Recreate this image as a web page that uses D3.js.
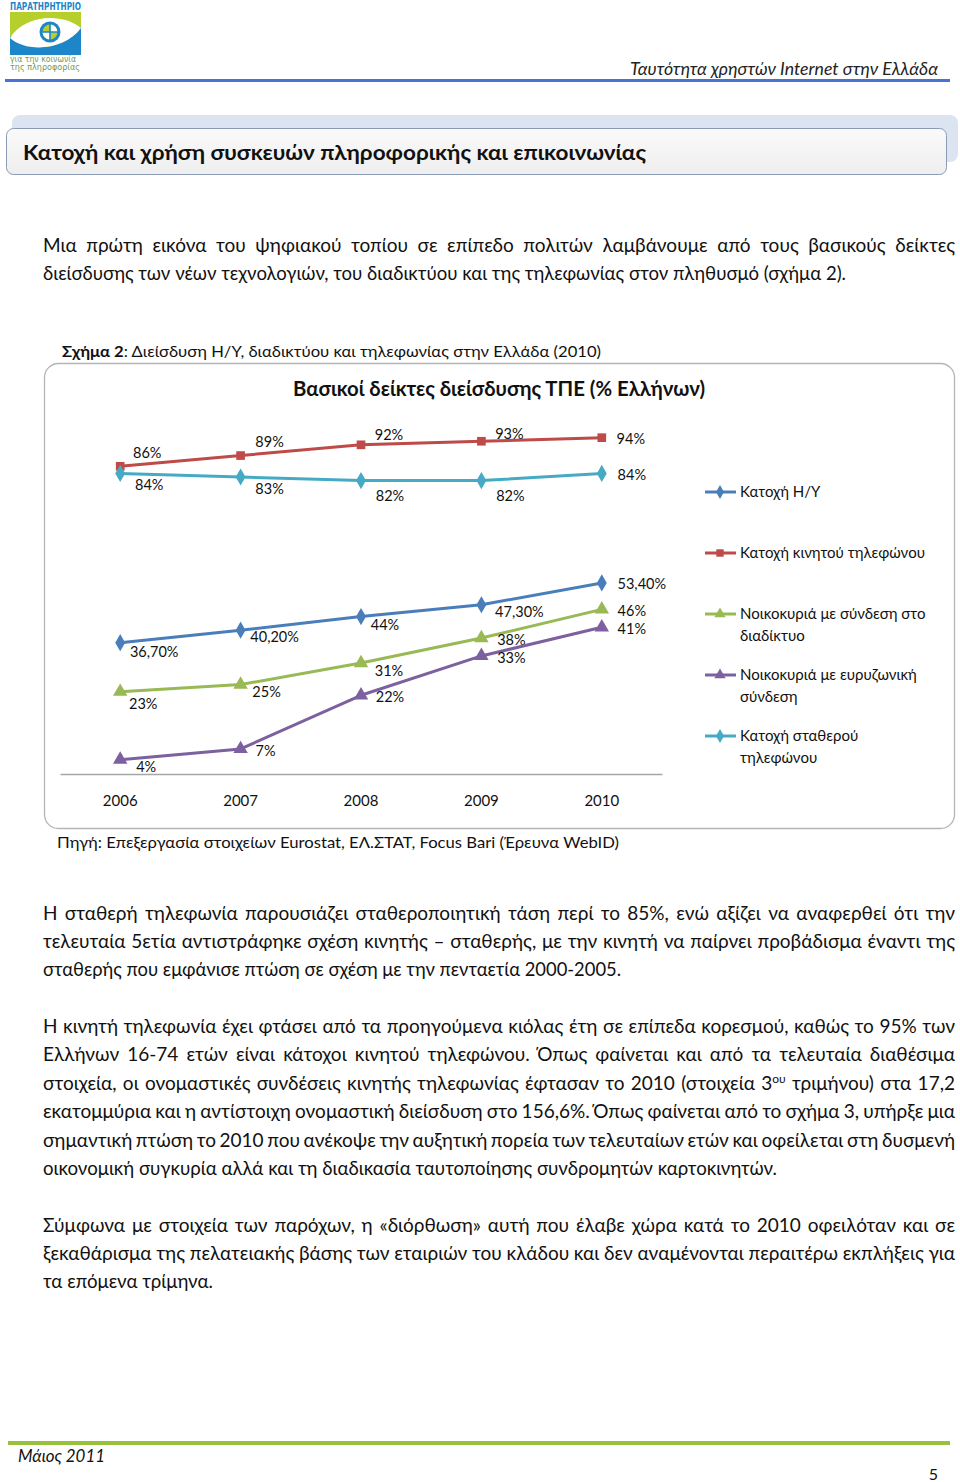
<!DOCTYPE html>
<html><head><meta charset="utf-8">
<script src="https://cdn.jsdelivr.net/npm/d3@7"></script>
<style>
html,body{margin:0;padding:0;background:#fff;}
svg{display:block;}
</style></head>
<body>
<svg id="page" width="960" height="1482"></svg>
<script>
// ---------------- DATA ----------------
const years = ["2006", "2007", "2008", "2009", "2010"];
const seriesNames = ["Κατοχή Η/Υ", "Κατοχή κινητού τηλεφώνου", "Νοικοκυριά με σύνδεση στο διαδίκτυο", "Νοικοκυριά με ευρυζωνική σύνδεση", "Κατοχή σταθερού τηλεφώνου"];
const pcValues = [36.7, 40.2, 44, 47.3, 53.4];
const mobileValues = [86, 89, 92, 93, 94];
const internetValues = [23, 25, 31, 38, 46];
const broadbandValues = [4, 7, 22, 33, 41];
const fixedValues = [84, 83, 82, 82, 84];
const pcLabels = ["36,70%", "40,20%", "44%", "47,30%", "53,40%"];

const chartTitle = "Βασικοί δείκτες διείσδυσης ΤΠΕ (% Ελλήνων)";
const captionBold = "Σχήμα 2";
const captionRest = ": Διείσδυση Η/Υ, διαδικτύου και τηλεφωνίας στην Ελλάδα (2010)";
const sourceText = "Πηγή: Επεξεργασία στοιχείων Eurostat, ΕΛ.ΣΤΑΤ, Focus Bari (Έρευνα WebID)";
const headerText = "Ταυτότητα χρηστών Internet στην Ελλάδα";
const sectionTitle = "Κατοχή και χρήση συσκευών πληροφορικής και επικοινωνίας";
const footerText = "Μάιος 2011";
const pageNumber = "5";

const para1 = [
  "Μια πρώτη εικόνα του ψηφιακού τοπίου σε επίπεδο πολιτών λαμβάνουμε από τους βασικούς δείκτες",
  "διείσδυσης των νέων τεχνολογιών, του διαδικτύου και της τηλεφωνίας στον πληθυσμό (σχήμα 2)."
];
const para2 = [
  "Η σταθερή τηλεφωνία παρουσιάζει σταθεροποιητική τάση περί το 85%, ενώ αξίζει να αναφερθεί ότι την",
  "τελευταία 5ετία αντιστράφηκε σχέση κινητής – σταθερής, με την κινητή να παίρνει προβάδισμα έναντι της",
  "σταθερής που εμφάνισε πτώση σε σχέση με την πενταετία 2000-2005."
];
const para3 = [
  "Η κινητή τηλεφωνία έχει φτάσει από τα προηγούμενα κιόλας έτη σε επίπεδα κορεσμού, καθώς το 95% των",
  "Ελλήνων 16-74 ετών είναι κάτοχοι κινητού τηλεφώνου. Όπως φαίνεται και από τα τελευταία διαθέσιμα",
  "στοιχεία, οι ονομαστικές συνδέσεις κινητής τηλεφωνίας έφτασαν το 2010 (στοιχεία 3^ου^ τριμήνου) στα 17,2",
  "εκατομμύρια και η αντίστοιχη ονομαστική διείσδυση στο 156,6%. Όπως φαίνεται από το σχήμα 3, υπήρξε μια",
  "σημαντική πτώση το 2010 που ανέκοψε την αυξητική πορεία των τελευταίων ετών και οφείλεται στη δυσμενή",
  "οικονομική συγκυρία αλλά και τη διαδικασία ταυτοποίησης συνδρομητών καρτοκινητών."
];
const para4 = [
  "Σύμφωνα με στοιχεία των παρόχων, η «διόρθωση» αυτή που έλαβε χώρα κατά το 2010 οφειλόταν και σε",
  "ξεκαθάρισμα της πελατειακής βάσης των εταιριών του κλάδου και δεν αναμένονται περαιτέρω εκπλήξεις για",
  "τα επόμενα τρίμηνα."
];

// ---------------- STYLE ----------------
const bodyFont = "Lato, 'Open Sans', sans-serif";
const chartFont = "Lato, 'Open Sans', sans-serif";
const seriesColors = ["#4a7ebb", "#be4b48", "#98b954", "#7d60a0", "#46aac5"];
const seriesSymbols = [d3.symbolDiamond, d3.symbolSquare, d3.symbolTriangle, d3.symbolTriangle, d3.symbolDiamond];

const svg = d3.select("#page");

// ---------------- HEADER / LOGO ----------------
const logo = svg.append("g");
logo.append("text").attr("x", 10).attr("y", 10).attr("font-family", "'DejaVu Sans Condensed', sans-serif")
  .attr("font-weight", "bold").attr("font-size", 10).attr("fill", "#1d86c8")
  .attr("textLength", 71).attr("lengthAdjust", "spacingAndGlyphs").text("ΠΑΡΑΤΗΡΗΤΗΡΙΟ");
logo.append("rect").attr("x", 10).attr("y", 12).attr("width", 71).attr("height", 43).attr("fill", "#b7cf2c");
logo.append("path").attr("d", "M10,36 L10,55 L81,55 L81,27 C66,50 28,54 10,36 Z").attr("fill", "#1d86c8");
logo.append("path").attr("d", "M10,38 C24,15 62,12 81,28 C66,49 28,54 10,38 Z").attr("fill", "#ffffff");
logo.append("circle").attr("cx", 50).attr("cy", 32).attr("r", 10.5).attr("fill", "#1d86c8");
logo.append("circle").attr("cx", 50).attr("cy", 32).attr("r", 7.5).attr("fill", "#b7cf2c");
logo.append("path").attr("d", "M50,24.5 A7.5,7.5 0 0 1 57.5,32 L50,32 Z M50,32 L42.5,32 A7.5,7.5 0 0 0 50,39.5 Z").attr("fill", "#ffffff");
logo.append("path").attr("d", "M50,22 V42 M40,32 H60").attr("stroke", "#1d86c8").attr("stroke-width", 1.6);
logo.append("text").attr("x", 10).attr("y", 62).attr("font-family", "'DejaVu Sans Condensed', sans-serif").attr("font-size", 8)
  .attr("fill", "#6f9a5a").attr("textLength", 66).attr("lengthAdjust", "spacingAndGlyphs").text("για την κοινωνία");
logo.append("text").attr("x", 10).attr("y", 70).attr("font-family", "'DejaVu Sans Condensed', sans-serif").attr("font-size", 8)
  .attr("fill", "#6f9a5a").attr("textLength", 70).attr("lengthAdjust", "spacingAndGlyphs").text("της πληροφορίας");

svg.append("text").attr("x", 938).attr("y", 75).attr("text-anchor", "end")
  .attr("font-family", chartFont).attr("font-style", "italic").attr("font-size", 17).attr("fill", "#222")
  .attr("textLength", 308).attr("lengthAdjust", "spacingAndGlyphs").text(headerText);
svg.append("rect").attr("x", 5).attr("y", 79).attr("width", 945).attr("height", 3).attr("fill", "#4a72d4");

// ---------------- SECTION BOX ----------------
const defs = svg.append("defs");
const grad = defs.append("linearGradient").attr("id", "boxgrad").attr("x1", 0).attr("y1", 0).attr("x2", 0).attr("y2", 1);
grad.append("stop").attr("offset", "0%").attr("stop-color", "#fafafa");
grad.append("stop").attr("offset", "100%").attr("stop-color", "#eeeeee");
svg.append("rect").attr("x", 12).attr("y", 115).attr("width", 946).attr("height", 47).attr("rx", 8)
  .attr("fill", "#dbe4f0");
svg.append("rect").attr("x", 6.5).attr("y", 128.5).attr("width", 940).attr("height", 46).attr("rx", 7)
  .attr("fill", "url(#boxgrad)").attr("stroke", "#8a9ab4").attr("stroke-width", 1);
svg.append("text").attr("x", 23).attr("y", 160).attr("font-family", chartFont).attr("font-weight", "bold")
  .attr("font-size", 21).attr("fill", "#111").attr("textLength", 623).attr("lengthAdjust", "spacingAndGlyphs").text(sectionTitle);

// ---------------- BODY TEXT ----------------
function drawParagraph(lines, baselines, lastEnd) {
  lines.forEach((line, i) => {
    const t = svg.append("text").attr("x", 43).attr("y", baselines[i])
      .attr("font-family", bodyFont).attr("font-size", 19).attr("fill", "#111");
    const parts = line.split("^");
    parts.forEach((p, j) => {
      const ts = t.append("tspan").text(p);
      if (j % 2 === 1) ts.attr("font-size", 12).attr("dy", -7);
      else if (j > 0) ts.attr("dy", 7);
    });
    const natural = t.node().getComputedTextLength();
    const isLast = i === lines.length - 1;
    if (!isLast) {
      const spaces = (line.match(/ /g) || []).length;
      const ws = (912 - natural) / spaces;
      t.attr("word-spacing", ws);
    } else {
      t.attr("textLength", lastEnd - 43).attr("lengthAdjust", "spacingAndGlyphs");
    }
  });
}
drawParagraph(para1, [252, 280], 846);
drawParagraph(para2, [920, 948, 976], 621);
drawParagraph(para3, [1033, 1061, 1090, 1118, 1147, 1175], 777);
drawParagraph(para4, [1232, 1260, 1288], 213);

// ---------------- CAPTION ----------------
const cap = svg.append("text").attr("x", 62).attr("y", 357).attr("font-family", chartFont).attr("font-size", 16).attr("fill", "#111")
  .attr("textLength", 539).attr("lengthAdjust", "spacingAndGlyphs");
cap.append("tspan").attr("font-weight", "bold").text(captionBold);
cap.append("tspan").text(captionRest);

// ---------------- CHART BOX ----------------
svg.append("rect").attr("x", 44.5).attr("y", 363.5).attr("width", 910).attr("height", 465).attr("rx", 14)
  .attr("fill", "#fff").attr("stroke", "#b5b5b5").attr("stroke-width", 1.3);
svg.append("text").attr("x", 499).attr("y", 396).attr("text-anchor", "middle").attr("font-family", chartFont)
  .attr("font-weight", "bold").attr("font-size", 20).attr("fill", "#111")
  .attr("textLength", 412).attr("lengthAdjust", "spacingAndGlyphs").text(chartTitle);

const x = d3.scaleBand().domain(years).range([60, 662]);
const y = d3.scaleLinear().domain([0, 100]).range([774, 416.2]);
const cx = d => x(d) + x.bandwidth() / 2;

const axis = svg.append("g").attr("transform", "translate(0,774)")
  .call(d3.axisBottom(x).tickSize(0).tickSizeOuter(0).tickPadding(21));
axis.select(".domain").attr("stroke", "#a6a6a6").attr("stroke-width", 1.3);
axis.selectAll("text").attr("font-family", chartFont).attr("font-size", 15).attr("fill", "#111");

const series = [
  { values: pcValues, labels: pcLabels, dx: [34, 34, 24, 38, 40], dy: [14, 12, 13, 12, 6] },
  { values: mobileValues, labels: mobileValues.map(v => v + "%"), dx: [27, 29, 28, 28, 29], dy: [-8, -9, -5, -2, 6] },
  { values: internetValues, labels: internetValues.map(v => v + "%"), dx: [23, 26, 28, 30, 30], dy: [17, 12, 13, 7, 7] },
  { values: broadbandValues, labels: broadbandValues.map(v => v + "%"), dx: [26, 25, 29, 30, 30], dy: [12, 7, 7, 7, 7] },
  { values: fixedValues, labels: fixedValues.map(v => v + "%"), dx: [29, 29, 29, 29, 30], dy: [17, 17, 20, 20, 7] }
];
const symbolSizes = [85, 75, 90, 90, 85];

const line = d3.line().x((v, i) => cx(years[i])).y(v => y(v));
series.forEach((s, k) => {
  const g = svg.append("g");
  g.append("path").attr("d", line(s.values)).attr("fill", "none")
    .attr("stroke", seriesColors[k]).attr("stroke-width", 3).attr("stroke-linejoin", "round");
  g.selectAll("path.m").data(s.values).join("path").attr("class", "m")
    .attr("transform", (v, i) => `translate(${cx(years[i])},${y(v)})`)
    .attr("d", d3.symbol().type(seriesSymbols[k]).size(symbolSizes[k]))
    .attr("fill", seriesColors[k]);
  g.selectAll("text").data(s.values).join("text")
    .attr("x", (v, i) => cx(years[i]) + s.dx[i]).attr("y", (v, i) => y(v) + s.dy[i])
    .attr("text-anchor", "middle").attr("font-family", chartFont).attr("font-size", 14.5).attr("fill", "#111")
    .text((v, i) => s.labels[i]);
});

// ---------------- LEGEND ----------------
const legendRows = [[seriesNames[0]], [seriesNames[1]], ["Νοικοκυριά με σύνδεση στο", "διαδίκτυο"], ["Νοικοκυριά με ευρυζωνική", "σύνδεση"], ["Κατοχή σταθερού", "τηλεφώνου"]];
const legendY = [492, 553, 614, 675, 736];
legendRows.forEach((rows, k) => {
  const g = svg.append("g").attr("transform", `translate(0,${legendY[k]})`);
  g.append("line").attr("x1", 705).attr("x2", 736).attr("stroke", seriesColors[k]).attr("stroke-width", 3);
  g.append("path").attr("transform", "translate(720,0)").attr("d", d3.symbol().type(seriesSymbols[k]).size(55)).attr("fill", seriesColors[k]);
  rows.forEach((r, j) => {
    g.append("text").attr("x", 740).attr("y", 5 + j * 22).attr("font-family", chartFont).attr("font-size", 15).attr("fill", "#111").text(r);
  });
});

// ---------------- SOURCE ----------------
svg.append("text").attr("x", 57).attr("y", 848).attr("font-family", chartFont).attr("font-size", 16).attr("fill", "#111")
  .attr("textLength", 562).attr("lengthAdjust", "spacingAndGlyphs").text(sourceText);

// ---------------- FOOTER ----------------
svg.append("rect").attr("x", 8).attr("y", 1441).attr("width", 942).attr("height", 4).attr("fill", "#98c23c");
svg.append("text").attr("x", 18).attr("y", 1462).attr("font-family", chartFont).attr("font-style", "italic")
  .attr("font-size", 17).attr("fill", "#111").attr("textLength", 87).attr("lengthAdjust", "spacingAndGlyphs").text(footerText);
svg.append("text").attr("x", 938).attr("y", 1480).attr("text-anchor", "end").attr("font-family", chartFont)
  .attr("font-size", 16).attr("fill", "#111").text(pageNumber);
</script>
</body></html>
